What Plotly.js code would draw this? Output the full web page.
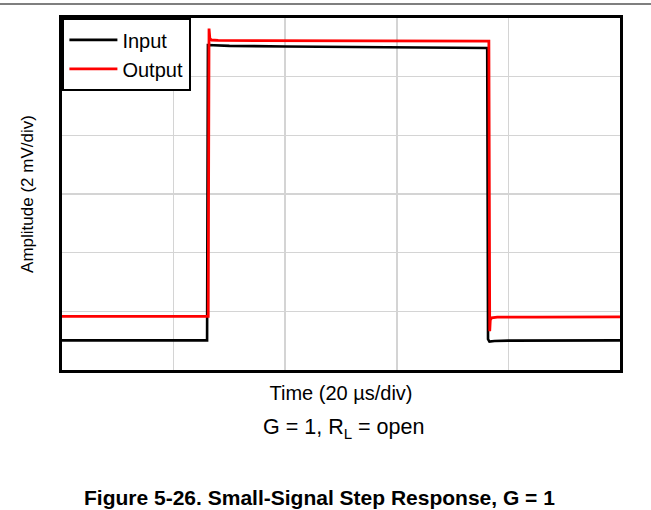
<!DOCTYPE html>
<html>
<head>
<meta charset="utf-8">
<script src="https://cdn.plot.ly/plotly-3.0.1.min.js"></script>
<style>html,body{margin:0;padding:0;background:#fff;}#chart{width:651px;height:510px;}</style>
</head>
<body>
<div id="chart"></div>
<script>
// Time in microseconds (20 µs/div), amplitude in mV (2 mV/div)
var inputTime = [0, 26.0, 26.15, 27, 30, 40, 55, 70, 76.2, 76.35, 76.6, 77.5, 80, 100];
var inputAmp  = [1.01, 1.01, 11.08, 11.07, 11.05, 11.03, 11.01, 10.99, 10.98, 1.05, 0.97, 0.99, 1.0, 1.01];
var outputTime = [0, 26.2, 26.35, 26.5, 26.8, 28, 35, 50, 65, 76.5, 76.65, 76.75, 77.0, 78, 85, 100];
var outputAmp  = [1.83, 1.83, 11.64, 11.3, 11.25, 11.24, 11.23, 11.22, 11.21, 11.21, 1.32, 1.7, 1.78, 1.8, 1.8, 1.81];
var seriesNames = ['Input', 'Output'];
var xTitle = 'Time (20 µs/div)';
var yTitle = 'Amplitude (2 mV/div)';
var condition = 'G = 1, R<sub>L</sub> = open';
var caption = '<b>Figure 5-26. Small-Signal Step Response, G = 1</b>';

var font = 'Liberation Sans, Arial, Helvetica, sans-serif';

var traces = [
  {x: inputTime, y: inputAmp, name: seriesNames[0], mode: 'lines', line: {color: '#000000', width: 2.6}},
  {x: outputTime, y: outputAmp, name: seriesNames[1], mode: 'lines', line: {color: '#ff0000', width: 2.8}}
];

var layout = {
  width: 651, height: 510,
  margin: {l: 62, r: 31, t: 18, b: 140},
  paper_bgcolor: '#ffffff', plot_bgcolor: '#ffffff',
  font: {family: font, color: '#000000'},
  showlegend: true,
  legend: {
    x: 0, y: 1, xanchor: 'left', yanchor: 'top',
    bgcolor: '#ffffff', bordercolor: '#000000', borderwidth: 2.4,
    font: {family: font, size: 20, color: '#000000'},
    itemwidth: 48, tracegroupgap: 0
  },
  xaxis: {
    range: [0, 100], dtick: 20, tick0: 0,
    showgrid: true, gridcolor: '#d4d4d4', gridwidth: 1.6,
    showline: true, mirror: true, linecolor: '#000000', linewidth: 2.6,
    zeroline: false, showticklabels: false, ticks: '',
    fixedrange: true,
    title: {text: xTitle, font: {family: font, size: 20, color: '#000000'}, standoff: 15}
  },
  yaxis: {
    range: [0, 12], dtick: 2, tick0: 0,
    showgrid: true, gridcolor: '#d4d4d4', gridwidth: 1.6,
    showline: true, mirror: true, linecolor: '#000000', linewidth: 2.6,
    zeroline: false, showticklabels: false, ticks: '',
    fixedrange: true,
    title: {text: yTitle, font: {family: font, size: 17, color: '#000000'}, standoff: 22}
  },
  shapes: [
    {type: 'line', xref: 'paper', yref: 'paper', x0: -0.12, x1: 1.07, y0: 1.04, y1: 1.04,
     line: {color: '#555555', width: 1.5}}
  ],
  annotations: [
    {text: condition, xref: 'paper', yref: 'paper', x: 0.505, y: -0.166, xanchor: 'center', yanchor: 'middle',
     showarrow: false, font: {family: font, size: 21.5, color: '#000000'}},
    {text: caption, xref: 'paper', yref: 'paper', x: 0.461, y: -0.361, xanchor: 'center', yanchor: 'middle',
     showarrow: false, font: {family: font, size: 21, color: '#000000'}}
  ]
};

Plotly.newPlot('chart', traces, layout, {displayModeBar: false, staticPlot: true});
</script>
</body>
</html>
